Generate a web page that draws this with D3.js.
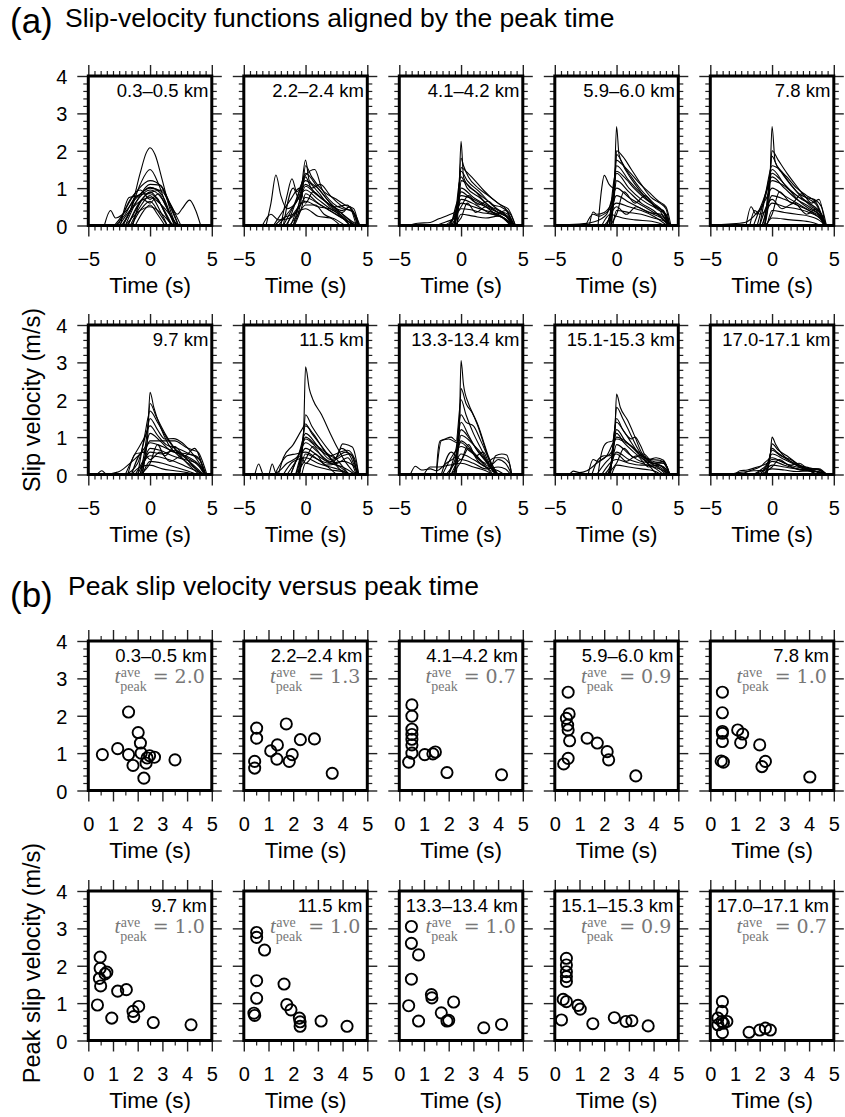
<!DOCTYPE html>
<html><head><meta charset="utf-8">
<script src="https://cdn.jsdelivr.net/npm/d3@7"></script>
<style>
body{margin:0;background:#fff;}
svg{display:block;}
</style></head><body>
<svg id="chart" width="845" height="1117" font-family="Liberation Sans, Arial, Helvetica, sans-serif" fill="#000"></svg>
<script>
// ---------- DATA ----------
const labelsA = ["0.3–0.5 km","2.2–2.4 km","4.1–4.2 km","5.9–6.0 km","7.8 km","9.7 km","11.5 km","13.3-13.4 km","15.1-15.3 km","17.0-17.1 km"];
const labelsB = ["0.3–0.5 km","2.2–2.4 km","4.1–4.2 km","5.9–6.0 km","7.8 km","9.7 km","11.5 km","13.3–13.4 km","15.1–15.3 km","17.0–17.1 km"];
const tPeakAve = ["2.0","1.3","0.7","0.9","1.0","1.0","1.0","1.0","0.9","0.7"];
const xTicksA = [-5,0,5];
const xTicksB = [0,1,2,3,4,5];
const yTicks = [0,1,2,3,4];

// slip-velocity functions: each curve is a flat list t0,v0,t1,v1,...
const curvesA1 = [
 [-2.2,0,-1.5,0.5,-0.8,1.4,-0.3,1.95,0,2.08,0.4,1.9,1.0,1.2,1.6,0.45,2.1,0],
 [-2.3,0,-1.6,0.4,-0.8,1.1,0,1.5,0.7,1.1,1.4,0.45,2.0,0],
 [-2.6,0,-1.8,0.55,-1.0,0.95,0,1.2,0.9,1.05,1.5,0.6,2.3,0],
 [-2.0,0,-1,0.7,0,1.1,0.8,1.08,1.6,0.6,2.5,0],
 [-2.4,0,-1.7,0.75,-1.0,0.8,0,1.02,1.0,0.8,1.8,0.2,2.2,0],
 [-2.2,0,-1.2,0.6,0,0.95,1,0.7,2.0,0],
 [-1.8,0,-1,0.5,0,0.9,0.9,0.55,1.8,0],
 [-2.8,0,-2,0.3,-1.2,0.75,-0.4,0.85,0,0.85,0.8,0.6,1.6,0.1,2,0],
 [-1.6,0,-0.8,0.5,0,0.8,0.8,0.4,1.4,0],
 [-2.5,0,-1.5,0.45,0,0.75,1.2,0.45,2.2,0],
 [-1.5,0,-0.7,0.45,0,0.65,0.7,0.35,1.4,0],
 [-3.7,0,-3.2,0.4,-2.8,0.2,-2.2,0.3,-1.2,0.7,0,1.0,1.0,0.9,1.7,0.5,2.3,0],
 [-1.8,0,-0.9,0.6,0,0.88,1.0,0.95,1.6,0.6,2.2,0.3,2.6,0.45,3.2,0.68,3.7,0.4,4.1,0],
 [-1.2,0,-0.5,0.4,0,0.55,0.6,0.3,1.2,0],
 [-2,0,-1,0.35,0,0.5,1,0.3,1.8,0],
 [-2.9,0,-2.3,0.25,-1.6,0.7,-0.8,0.95,0,0.7,0.7,0.85,1.3,0.5,2.0,0.1,2.4,0],
 [-1.4,0,-0.6,0.7,0,0.6,0.5,0.75,1.1,0.4,1.7,0]
];
const curvesA2 = [
 [-1.0,0,-0.4,0.8,0,1.75,0.3,1.2,1.0,1.0,2.0,0.6,3.0,0.3,3.8,0.1,4.3,0],
 [-3.2,0,-2.8,0.6,-2.4,1.35,-2.0,0.8,-1.5,0.45,-0.8,0.6,0,1.1,1,0.8,2,0.55,3,0.4,3.6,0.5,4.2,0],
 [-2.0,0,-1.5,0.8,-1.1,1.25,-0.7,0.9,0,1.35,0.75,1.5,1.3,1.0,2.2,0.6,3,0.45,3.8,0.4,4.3,0],
 [-1.5,0,-0.5,0.9,0,1.4,1,1.0,2,0.6,3,0.3,4,0],
 [-1.8,0,-1,0.5,0,1.2,1,0.9,2,0.5,3,0.35,3.5,0.5,4.1,0],
 [-1.2,0,-0.5,0.6,0,1.05,0.8,0.85,1.8,0.6,2.8,0.3,3.6,0],
 [-2.2,0,-1.5,0.3,-0.8,0.6,0,0.95,1,0.7,2,0.45,3,0.25,3.8,0],
 [-0.9,0,-0.3,0.5,0,0.85,1,0.6,2.2,0.35,3.2,0.15,4,0],
 [-3.5,0,-2.8,0.3,-2.2,0.15,-1.2,0.2,-0.5,0.5,0,0.75,1.2,0.55,2.5,0.3,3.5,0.1,4.2,0],
 [-1.6,0,-0.8,0.4,0,0.65,1,0.5,2,0.45,3,0.2,3.6,0],
 [-1.3,0,-0.6,0.3,0,0.55,0.8,0.55,1.5,0.3,2.5,0.15,3.2,0],
 [-2.5,0,-1.8,0.2,-1.0,0.3,0,0.45,1,0.25,2,0.2,2.8,0],
 [-1.0,0,-0.3,0.8,0,1.6,0.5,1.3,1.5,0.9,2.5,0.7,3.2,0.55,3.9,0.45,4.3,0],
 [-2.6,0,-2.0,0.3,-1.2,0.7,-0.5,1.0,0,0.6,0.6,0.9,1.4,0.7,2.4,0.5,3.4,0.55,3.9,0.3,4.3,0],
 [-1.8,0,-1.0,1.0,-0.5,0.7,0,1.3,0.5,1.0,1.2,1.1,2.0,0.8,3.0,0.5,4.0,0.3,4.4,0]
];
const curvesA3 = [
 [-0.5,0,-0.2,0.6,0,2.25,0.2,1.3,0.5,1.1,1.2,0.9,2.0,0.6,3.0,0.35,3.8,0.2,4.2,0],
 [-0.6,0,-0.2,0.8,0,1.55,0.4,1.45,1.0,1.25,1.8,0.95,2.6,0.7,3.2,0.55,3.8,0.45,4.4,0],
 [-1.0,0,-0.3,0.6,0,1.45,0.5,1.2,1.5,0.9,2.5,0.55,3.5,0.3,4.2,0],
 [-0.8,0,-0.2,0.5,0,1.2,1,0.95,2,0.7,2.6,0.55,3.2,0.5,4.0,0.3,4.4,0],
 [-4.3,0,-3.5,0.06,-2.5,0.08,-1.8,0.18,-1.0,0.28,-0.3,0.4,0,1.0,1,0.75,2,0.55,3,0.35,4,0.15,4.3,0],
 [-0.5,0,0,0.9,1,0.65,2,0.5,3,0.35,3.8,0.25,4.3,0],
 [-0.8,0,0,0.8,1,0.7,1.8,0.55,2.6,0.35,3.4,0.2,4.0,0],
 [-1.3,0,-0.6,0.2,0,0.6,1,0.5,2,0.4,3,0.3,4.2,0],
 [-0.6,0,0,0.45,0.8,0.42,1.6,0.35,2.5,0.3,3.5,0.2,4.2,0],
 [-0.4,0,0,0.3,1,0.25,2,0.2,3,0.25,3.7,0.15,4.3,0],
 [-0.3,0,0,1.8,0.2,1.6,0.6,1.3,1.4,1.0,2.2,0.8,3.0,0.6,3.6,0.45,4.3,0],
 [-2.0,0,-1.2,0.1,-0.5,0.2,0,0.7,1.2,0.55,2.2,0.35,3.4,0.2,4.1,0],
 [-1.0,0,-0.4,0.3,0,0.5,0.6,0.8,1.4,0.55,2.2,0.65,3.0,0.4,3.8,0.3,4.3,0],
 [-0.6,0,0,0.2,0.5,0.6,1.2,0.35,2.0,0.5,2.8,0.3,3.6,0.4,4.2,0],
 [-0.5,0,0,1.3,0.5,1.0,1.5,0.75,2.4,0.5,3.4,0.35,4.3,0]
];
const curvesA4 = [
 [-0.5,0,-0.2,0.8,0,2.65,0.2,1.9,0.6,1.6,1.2,1.3,2,0.95,3,0.6,3.8,0.35,4.2,0],
 [-0.6,0,-0.15,1.0,0,2.0,0.5,1.85,1.2,1.5,2,1.1,2.8,0.75,3.5,0.6,4.0,0.45,4.3,0],
 [-1.5,0,-1.2,1.0,-1.0,1.34,-0.6,1.1,-0.2,1.0,0,1.9,0.7,1.5,1.5,1.1,2.5,0.7,3.5,0.4,4.2,0],
 [-0.8,0,-0.3,0.7,0,1.6,1,1.2,2,0.85,3,0.55,4,0.3,4.3,0],
 [-2.2,0,-1.9,0.36,-1.6,0.3,-1.0,0.35,-0.4,0.6,0,1.4,1,1.0,2,0.7,3,0.5,3.8,0.4,4.2,0],
 [-1.0,0,-0.3,0.5,0,1.2,1,0.9,2,0.6,3,0.4,4.2,0],
 [-5,0.02,-3,0.04,-1.8,0.1,-0.8,0.3,0,1.0,1,0.75,2,0.55,3,0.35,4,0.15,4.3,0],
 [-0.6,0,0,0.8,1,0.62,2,0.45,3,0.3,4,0.1,4.2,0],
 [-2.5,0,-1.9,0.3,-1.4,0.25,-0.8,0.35,0,0.6,1,0.5,2,0.4,3,0.25,4.1,0],
 [-0.3,0,0,0.4,1,0.35,2,0.3,3,0.2,4,0.1,4.3,0],
 [-0.4,0,0,1.75,0.4,1.65,1.0,1.45,1.8,1.15,2.6,0.9,3.4,0.65,4.0,0.5,4.4,0],
 [-1.2,0,-0.5,0.3,0,0.25,0.5,0.2,1.5,0.15,3,0.1,4.0,0],
 [-0.5,0,0,0.3,0.6,0.9,1.5,0.6,2.3,0.8,3.2,0.45,4.0,0.3,4.3,0],
 [-0.8,0,0,0.5,0.8,0.3,1.6,0.5,2.6,0.35,3.6,0.3,4.3,0],
 [-0.6,0,0,1.45,0.6,1.3,1.4,1.0,2.2,0.75,3.0,0.55,3.8,0.35,4.3,0]
];
const curvesA5 = [
 [-0.6,0,-0.2,0.9,0,2.65,0.25,1.7,0.8,1.4,1.6,1.05,2.4,0.75,3.2,0.5,4,0.3,4.4,0],
 [-0.8,0,-0.2,1.1,0,2.0,0.5,1.75,1.2,1.4,2,1.05,2.8,0.75,3.4,0.7,4,0.5,4.4,0],
 [-1.2,0,-0.5,0.9,0,1.6,0.6,1.5,1.4,1.15,2.2,0.85,3.0,0.7,3.6,0.55,4.3,0],
 [-1.0,0,-0.4,1.0,0,1.5,1,1.1,2,0.8,3,0.6,4,0.3,4.3,0],
 [-2.1,0,-1.7,0.5,-1.3,0.3,-0.8,0.5,0,1.3,1,1.0,2,0.7,3,0.5,4,0.2,4.3,0],
 [-5,0.02,-3.5,0.04,-2.2,0.08,-1.2,0.35,-0.5,0.7,0,1.0,1,0.8,2,0.6,3,0.4,4,0.15,4.3,0],
 [-0.6,0,0,0.8,1,0.7,2,0.55,3,0.4,4,0.2,4.3,0],
 [-1.8,0,-1.4,0.4,-1.0,0.3,-0.5,0.4,0,0.6,1,0.5,2,0.45,3,0.35,4,0.15,4.2,0],
 [-0.4,0,0,0.4,1,0.35,2,0.3,3,0.25,4,0.1,4.3,0],
 [-0.8,0,-0.3,0.8,0,1.85,0.4,1.6,1.2,1.3,2.0,1.0,2.8,0.8,3.6,0.6,4.3,0],
 [-1.5,0,-0.8,0.6,0,1.2,0.8,1.1,1.6,0.9,2.4,0.7,3.2,0.55,4.4,0],
 [-0.5,0,0,0.2,1.5,0.15,3,0.1,4,0],
 [-0.5,0,0,0.3,0.6,0.9,1.6,0.6,2.4,0.85,3.2,0.6,3.8,0.7,4.3,0],
 [-1.0,0,0,0.7,0.8,0.45,1.8,0.6,2.8,0.3,3.6,0.45,4.2,0],
 [-0.6,0,0,1.4,0.6,1.25,1.4,0.95,2.2,0.65,3.0,0.45,3.8,0.3,4.3,0]
];
const curvesA6 = [
 [-0.7,0,-0.2,1.0,0,2.2,0.3,1.8,0.8,1.3,1.5,0.8,2.5,0.45,3.5,0.2,4.2,0],
 [-0.8,0,-0.2,1.2,0,1.9,0.5,1.55,1.2,1.1,2,0.7,3,0.4,4,0.1,4.3,0],
 [-1.0,0,-0.4,1.1,0,1.7,0.6,1.4,1.4,0.95,2.2,0.6,3,0.3,4,0],
 [-2.0,0,-1.3,0.5,-0.6,0.9,-0.3,1.1,0,1.5,0.6,1.2,1.2,0.95,1.9,0.96,2.6,0.85,3.2,0.65,4,0.3,4.5,0],
 [-1.8,0,-1.2,0.55,-0.5,0.6,0,0.9,1,0.9,2,0.9,2.9,0.73,3.5,0.65,3.9,0.6,4.3,0.3,4.6,0],
 [-4.3,0,-3.9,0.1,-3.5,0,-2.8,0.05,-2.5,0.08,-1.8,0.25,-0.8,0.55,0,0.85,1,0.75,2,0.6,3,0.55,3.7,0.5,4.3,0.2,4.5,0],
 [-1.2,0,-0.5,0.4,0,0.7,0.8,0.65,1.8,0.5,2.8,0.4,3.8,0.3,4.4,0],
 [-1.0,0,0,0.5,1,0.45,2,0.35,3,0.2,4,0.05,4.2,0],
 [-0.6,0,0,0.35,1,0.3,2,0.2,3,0.1,3.8,0],
 [-2.0,0,-1,0.3,0,1.3,0.6,1.05,1.3,0.8,2.2,0.7,3.2,0.55,4,0.4,4.5,0],
 [-0.8,0,0,0.6,1,0.55,2,0.65,3,0.45,4,0.2,4.4,0],
 [-1.5,0,-0.8,0.2,0,0.25,1,0.15,2,0.1,3,0.05,3.5,0],
 [-0.8,0,0,0.3,0.6,0.8,1.2,0.5,2.0,0.75,2.8,0.5,3.6,0.7,4.4,0],
 [-1.5,0,-0.6,0.6,0,0.4,0.8,0.6,1.6,0.35,2.6,0.5,3.4,0.25,4.2,0],
 [-0.6,0,0,1.1,0.8,0.9,1.6,0.65,2.4,0.55,3.2,0.45,4.0,0.25,4.5,0]
];
const curvesA7 = [
 [-0.5,0,-0.15,1.2,0,2.88,0.3,2.3,0.6,2.0,1.3,1.6,2.0,1.1,2.6,0.7,3.2,0.35,3.8,0.1,4.1,0],
 [-0.8,0,-0.2,0.9,0,1.6,0.5,1.3,1.2,0.95,2,0.6,2.8,0.3,3.5,0],
 [-2.2,0,-1.8,0.45,-1.0,0.8,-0.3,1.2,0,1.35,0.5,1.1,1.2,0.8,2,0.45,2.6,0.2,3.2,0],
 [-1.2,0,-0.5,0.6,0,1.1,1,0.75,2,0.4,2.5,0.45,3.0,0.82,3.5,0.78,3.8,0.73,4.1,0.4,4.3,0],
 [-4.1,0,-3.8,0.28,-3.4,0,-3.0,0,-2.7,0.28,-2.4,0.05,-1.5,0.3,-0.6,0.5,0,0.95,1,0.7,2,0.5,2.8,0.6,3.4,0.65,4,0.4,4.3,0],
 [-1.5,0,-0.7,0.4,0,0.85,1,0.6,2,0.35,3,0.5,3.6,0.55,4.2,0],
 [-0.8,0,0,0.7,1,0.5,2,0.3,3,0.2,4,0],
 [-0.5,0,0,0.55,1,0.4,2,0.3,3,0.35,4,0.2,4.3,0],
 [-1.8,0,-1,0.35,0,0.45,1,0.3,2,0.2,3,0.1,3.6,0],
 [-0.6,0,0,1.0,0.8,0.8,1.6,0.6,2.4,0.45,3.2,0.6,3.8,0.5,4.2,0],
 [-2.5,0,-2,0.3,-1.5,0.5,-0.8,0.55,0,0.6,1,0.4,2,0.15,2.5,0],
 [-0.3,0,0,0.3,1,0.2,2,0.12,3,0.08,3.5,0],
 [-0.8,0,0,0.4,0.6,0.75,1.4,0.45,2.2,0.3,2.9,0.7,3.6,0.5,4.2,0],
 [-1.2,0,-0.4,0.5,0,0.3,0.8,0.55,1.6,0.25,2.6,0.3,3.4,0.45,4.1,0],
 [-0.5,0,0,1.3,0.6,1.1,1.4,0.7,2.2,0.35,3.0,0.15,3.6,0]
];
const curvesA8 = [
 [-0.4,0,-0.12,1.5,0,3.05,0.2,2.4,0.6,1.9,1.0,1.6,1.4,1.3,1.8,0.9,2.2,0.5,2.7,0.15,3.0,0],
 [-0.6,0,-0.15,1.2,0,2.3,0.4,1.9,0.9,1.65,1.3,1.35,2.0,0.65,2.5,0.2,2.9,0],
 [-2.0,0,-1.9,0.5,-1.7,0.9,-1.3,0.95,-0.8,1.0,-0.4,0.9,0,2.0,0.4,1.6,1,1.1,1.6,0.7,2.2,0.3,2.8,0],
 [-1.0,0,-0.3,0.6,0,1.05,1,0.8,1.8,0.5,2.4,0.2,2.8,0.5,3.3,0.55,3.7,0.52,4.1,0],
 [-4.1,0,-3.7,0.22,-3.2,0.12,-2.5,0.15,-2.0,0.1,-1.2,0.3,-0.4,0.5,0,0.9,1,0.6,2,0.3,2.7,0.45,3.3,0.45,3.9,0.3,4.1,0],
 [-1.5,0,-0.8,0.45,0,0.75,0.8,0.6,1.6,0.35,2.5,0.15,3,0],
 [-1.2,0,-0.5,0.3,0,0.55,1,0.4,2,0.2,3,0.1,3.5,0],
 [-2.0,0,-1.6,0.9,-1.0,0.95,-0.3,0.85,0,0.85,0.7,0.65,1.5,0.4,2.3,0.1,2.6,0],
 [-0.8,0,0,0.4,1,0.3,2,0.15,3,0.2,3.6,0.15,4,0],
 [-3.0,0,-2.5,0.2,-1.8,0.2,-1,0.25,0,0.3,1,0.2,2,0.1,2.6,0],
 [-0.5,0,0,1.6,0.4,1.4,1.0,1.3,1.6,0.9,2.2,0.45,2.8,0],
 [-1.0,0,-0.4,0.7,0,1.4,0.6,1.05,1.2,0.7,1.8,0.45,2.5,0.2,3.0,0],
 [-0.8,0,0,0.35,0.6,0.8,1.2,0.5,1.8,0.6,2.4,0.25,3.0,0.4,3.6,0.3,4.1,0],
 [-1.6,0,-0.8,0.6,0,0.4,0.6,0.7,1.4,0.35,2.2,0.15,3.0,0],
 [-0.5,0,0,1.2,0.7,0.95,1.4,0.6,2.0,0.35,2.6,0.1,3.0,0]
];
const curvesA9 = [
 [-0.6,0,-0.15,1.0,0,2.15,0.3,1.8,0.9,1.45,1.5,1.0,2.0,0.6,2.6,0.35,3.5,0.15,4.0,0],
 [-0.7,0,-0.2,0.9,0,1.8,0.5,1.5,1.1,1.1,1.7,0.7,2.4,0.35,3,0.1,3.3,0],
 [-1.5,0,-1.2,0.6,-0.8,0.85,-0.3,0.9,0,1.5,0.5,1.2,1.2,0.95,1.5,1.0,1.9,0.8,2.4,0.45,3.0,0.3,3.8,0.3,4.3,0],
 [-2.3,0,-1.9,0.4,-1.5,0.35,-1.0,0.45,-0.4,0.6,0,1.2,0.7,0.9,1.4,0.7,2.2,0.45,3,0.35,3.8,0.3,4.3,0],
 [-3.8,0,-3.5,0.09,-3.0,0.05,-2.4,0.1,-1.6,0.3,-0.8,0.5,0,0.95,1,0.8,2,0.5,2.8,0.4,3.5,0.38,4.1,0.2,4.3,0],
 [-1.0,0,-0.4,0.3,0,0.8,1,0.55,2,0.35,3,0.3,4,0.15,4.2,0],
 [-0.6,0,0,0.6,1,0.4,2,0.3,3,0.2,4,0.05,4.1,0],
 [-1.2,0,0,0.4,1,0.3,2,0.25,3,0.25,3.7,0.15,4.2,0],
 [-0.4,0,0,0.25,1,0.2,2,0.15,3,0.1,3.6,0],
 [-2.0,0,-1.5,0.4,-1,0.5,-0.5,0.5,0,1.0,0.7,0.9,1.4,0.7,2,0.55,2.6,0.4,3.2,0.45,3.8,0.38,4.3,0],
 [-0.5,0,0,1.4,0.6,1.15,1.2,0.85,1.8,0.55,2.5,0.3,3.2,0.15,3.8,0],
 [-0.8,0,0,0.3,0.6,0.7,1.4,0.45,2.2,0.55,3.0,0.3,3.8,0.35,4.3,0],
 [-1.6,0,-0.8,0.35,0,0.55,0.8,0.35,1.6,0.5,2.6,0.2,3.4,0.25,4.2,0],
 [-0.5,0,0,1.1,0.6,0.85,1.4,0.6,2.2,0.4,3.0,0.3,3.8,0.2,4.3,0]
];
const curvesA10 = [
 [-0.5,0,-0.15,0.5,0,1.0,0.3,0.8,0.8,0.55,1.5,0.35,2.2,0.2,3,0.1,3.8,0],
 [-0.6,0,-0.2,0.4,0,0.82,0.5,0.65,1.2,0.5,2,0.3,2.8,0.15,3.5,0],
 [-1.0,0,-0.3,0.35,0,0.65,0.7,0.5,1.5,0.4,2.2,0.25,3,0.18,3.8,0.12,4.3,0],
 [-3.0,0,-2.6,0.1,-2,0.12,-1.2,0.2,-0.4,0.3,0,0.55,1,0.4,2,0.25,3,0.15,3.6,0.15,4.4,0],
 [-2.5,0,-1.8,0.1,-1,0.2,0,0.45,1,0.3,2,0.2,3,0.15,3.8,0.12,4.5,0],
 [-0.8,0,0,0.35,1,0.25,2,0.15,3,0.1,4,0.05,4.3,0],
 [-1.5,0,-0.5,0.15,0,0.25,1,0.2,2,0.15,3,0.12,4,0.06,4.5,0],
 [-3.5,0,-2.5,0.06,-1.5,0.1,-0.5,0.12,0,0.15,1,0.12,2,0.08,3,0.1,4,0.05,4.4,0],
 [-0.4,0,0,0.7,0.4,0.6,1,0.45,1.8,0.3,2.6,0.18,3.4,0.1,4.0,0],
 [-0.8,0,0,0.2,0.6,0.4,1.4,0.25,2.2,0.3,3.0,0.15,3.8,0.15,4.4,0],
 [-1.5,0,-0.6,0.2,0,0.4,0.8,0.35,1.6,0.2,2.6,0.1,3.6,0.08,4.2,0]
];

// peak time (s), peak slip velocity (m/s)
const peaksB1 = [[0.57,0.96],[1.19,1.12],[1.63,2.10],[1.63,0.96],[1.81,0.67],[2.02,1.55],[2.11,1.27],[2.14,1.00],[2.25,0.33],[2.34,0.73],[2.38,0.87],[2.48,0.93],[2.68,0.89],[3.51,0.82]];
const peaksB2 = [[0.52,1.67],[0.52,1.40],[0.44,0.78],[0.44,0.60],[1.09,1.06],[1.36,1.22],[1.34,0.84],[1.72,1.78],[1.84,0.78],[1.96,0.96],[2.29,1.36],[2.86,1.38],[3.58,0.46]];
const peaksB3 = [[0.51,2.29],[0.51,1.99],[0.51,1.64],[0.51,1.50],[0.51,1.37],[0.51,1.22],[0.51,1.00],[0.38,0.76],[1.03,0.96],[1.36,0.98],[1.46,1.03],[1.93,0.48],[4.14,0.42]];
const peaksB4 = [[0.54,2.63],[0.58,2.05],[0.47,1.93],[0.54,1.62],[0.60,1.33],[0.54,0.86],[0.36,0.71],[1.31,1.40],[1.72,1.27],[2.12,1.04],[2.18,0.82],[3.28,0.39],[0.52,1.75]];
const peaksB5 = [[0.49,2.63],[0.49,2.08],[0.49,1.58],[0.49,1.53],[0.49,1.31],[0.44,0.79],[0.53,0.76],[1.11,1.62],[1.31,1.51],[1.23,1.28],[2.00,1.22],[2.23,0.78],[2.09,0.64],[4.03,0.36]];
const peaksB6 = [[0.48,2.23],[0.48,1.93],[0.45,1.66],[0.50,1.46],[0.68,1.78],[0.75,1.83],[0.37,0.95],[0.95,0.60],[1.19,1.32],[1.54,1.36],[1.81,0.78],[1.84,0.64],[2.04,0.91],[2.63,0.48],[4.16,0.42]];
const peaksB7 = [[0.52,2.89],[0.52,2.76],[0.84,2.42],[0.52,1.60],[0.52,1.13],[0.41,0.73],[0.44,0.67],[1.63,1.51],[1.74,0.96],[1.91,0.82],[2.25,0.60],[2.28,0.38],[2.28,0.50],[3.13,0.52],[4.18,0.38]];
const peaksB8 = [[0.49,3.05],[0.49,2.60],[0.78,2.29],[0.49,1.64],[0.38,0.93],[0.78,0.52],[1.30,1.23],[1.32,1.14],[2.20,1.03],[1.70,0.74],[1.93,0.52],[2.00,0.54],[3.42,0.34],[4.14,0.43]];
const peaksB9 = [[0.47,2.20],[0.47,2.02],[0.47,1.84],[0.47,1.71],[0.47,1.58],[0.34,1.10],[0.47,1.04],[0.94,0.94],[1.03,0.84],[0.27,0.55],[1.54,0.45],[2.41,0.61],[2.88,0.51],[3.12,0.53],[3.78,0.39]];
const peaksB10 = [[0.49,1.04],[0.47,0.78],[0.31,0.60],[0.47,0.51],[0.67,0.51],[0.53,0.46],[0.31,0.42],[0.49,0.21],[1.57,0.22],[2.00,0.28],[2.23,0.33],[2.43,0.28]];

const curvesA = [curvesA1,curvesA2,curvesA3,curvesA4,curvesA5,curvesA6,curvesA7,curvesA8,curvesA9,curvesA10];
const peaksB = [peaksB1,peaksB2,peaksB3,peaksB4,peaksB5,peaksB6,peaksB7,peaksB8,peaksB9,peaksB10];

// ---------- LAYOUT ----------
const svg = d3.select("#chart");
const lefts = [88.3,243.8,399.3,554.8,710.3];
const W = 123.5, H = 149.5;
const tops = [76,325,641,891];
const SANS = "Liberation Sans, Arial, Helvetica, sans-serif";
const fmt = d => d < 0 ? "\u2212" + Math.abs(d) : String(d);

function stepVals(a,b,step){ const n=Math.round((b-a)/step); return d3.range(n+1).map(i=>+(a+i*step).toFixed(4)); }

function panel(x0,y0,xDomain,xMajor,xStep,showY){
  const g = svg.append("g").attr("transform",`translate(${x0},${y0})`);
  const x = d3.scaleLinear().domain(xDomain).range([0,W]);
  const y = d3.scaleLinear().domain([0,4]).range([H,0]);
  const minorX = stepVals(xDomain[0],xDomain[1],xStep).filter(v=>!xMajor.includes(v));
  const minorY = stepVals(0,4,0.2).filter(v=>!yTicks.includes(v));
  const axes = g.append("g").attr("class","axes");
  const style = (sel, sw) => { sel.select(".domain").remove(); sel.selectAll("line").attr("stroke","#222").attr("stroke-width",sw); };
  // bottom
  axes.append("g").attr("transform",`translate(0,${H})`).call(d3.axisBottom(x).tickValues(minorX).tickSize(5).tickFormat("")).call(s=>style(s,1.2));
  const bx = axes.append("g").attr("transform",`translate(0,${H})`).call(d3.axisBottom(x).tickValues(xMajor).tickSize(11).tickFormat(fmt)).call(s=>style(s,1.4));
  bx.selectAll("text").attr("y",40).attr("dy",0).attr("font-size",20).attr("font-family",SANS).attr("fill","#000");
  // top
  axes.append("g").call(d3.axisTop(x).tickValues(minorX).tickSize(5).tickFormat("")).call(s=>style(s,1.2));
  axes.append("g").call(d3.axisTop(x).tickValues(xMajor).tickSize(11).tickFormat("")).call(s=>style(s,1.4));
  // left
  axes.append("g").call(d3.axisLeft(y).tickValues(minorY).tickSize(5).tickFormat("")).call(s=>style(s,1.2));
  const ly = axes.append("g").call(d3.axisLeft(y).tickValues(yTicks).tickSize(11).tickFormat(d=>showY?d:"")).call(s=>style(s,1.4));
  ly.selectAll("text").attr("x",-21).attr("dy","0.38em").attr("font-size",20).attr("font-family",SANS).attr("fill","#000");
  // right
  axes.append("g").attr("transform",`translate(${W},0)`).call(d3.axisRight(y).tickValues(minorY).tickSize(5).tickFormat("")).call(s=>style(s,1.2));
  axes.append("g").attr("transform",`translate(${W},0)`).call(d3.axisRight(y).tickValues(yTicks).tickSize(10).tickFormat("")).call(s=>style(s,1.4));
  // x title
  g.append("text").attr("x",W/2).attr("y",H+67).attr("text-anchor","middle").attr("font-size",22.5).text("Time (s)");
  return {g,x,y};
}

function frame(g){
  g.append("rect").attr("x",0).attr("y",0).attr("width",W).attr("height",H)
   .attr("fill","none").attr("stroke","#000").attr("stroke-width",3);
}

const toPairs = arr => d3.range(0,arr.length,2).map(i=>[arr[i],arr[i+1]]);

// measure a string's width
function measure(str, family, size, style){
  const t = svg.append("text").attr("font-family",family).attr("font-size",size).attr("font-style",style||"normal").text(str);
  const w = t.node().getComputedTextLength(); t.remove(); return w;
}

// ---------- PART (a) ----------
curvesA.forEach((curves,i)=>{
  const row = Math.floor(i/5), col = i%5;
  const p = panel(lefts[col], tops[row], [-5,5], xTicksA, 0.5, col===0);
  const line = d3.line().x(d=>p.x(d[0])).y(d=>p.y(d[1])).curve(d3.curveMonotoneX);
  p.g.append("g").selectAll("path").data(curves).join("path")
    .attr("d",c=>line(toPairs(c))).attr("fill","none").attr("stroke","#000").attr("stroke-width",1.1);
  frame(p.g);
  p.g.append("text").attr("x",W-3.5).attr("y",21).attr("text-anchor","end").attr("font-size",18.5).text(labelsA[i]);
});

// ---------- PART (b) ----------
const SERIF = "Liberation Serif, serif", DSERIF = "DejaVu Serif, serif";
const gray = "#777";
peaksB.forEach((pts,i)=>{
  const row = Math.floor(i/5)+2, col = i%5;
  const p = panel(lefts[col], tops[row], [0,5], xTicksB, 0.5, col===0);
  p.g.append("g").selectAll("circle").data(pts).join("circle")
    .attr("cx",d=>p.x(d[0])).attr("cy",d=>p.y(d[1])).attr("r",5.6)
    .attr("fill","none").attr("stroke","#000").attr("stroke-width",1.9);
  frame(p.g);
  p.g.append("text").attr("x",W-5).attr("y",21).attr("text-anchor","end").attr("font-size",18.5).text(labelsB[i]);
  // t_peak^ave = value  (one text element with tspans)
  const wVal = measure(tPeakAve[i], DSERIF, 19);
  const wEq = measure("=", DSERIF, 19);
  const wSub = measure("peak", SERIF, 14);
  const wT = measure("t", SERIF, 21, "italic");
  const xVal = W-7-wVal, xEq = xVal-6-wEq, xSub = xEq-6-wSub, xT = xSub-wT;
  const tx = p.g.append("text").attr("fill",gray).attr("font-family",SERIF);
  tx.append("tspan").attr("x",xT).attr("y",42).attr("font-style","italic").attr("font-size",21).text("t");
  tx.append("tspan").attr("x",xSub+0.5).attr("y",36).attr("font-size",14).text("ave");
  tx.append("tspan").attr("x",xSub).attr("y",50).attr("font-size",14).text("peak");
  tx.append("tspan").attr("x",xEq).attr("y",42).attr("font-family",DSERIF).attr("font-size",19).text("=");
  tx.append("tspan").attr("x",xVal).attr("y",42).attr("font-family",DSERIF).attr("font-size",19).text(tPeakAve[i]);
});

// ---------- TITLES ----------
svg.append("text").attr("x",10).attr("y",33).attr("font-size",35).text("(a)");
svg.append("text").attr("x",65).attr("y",27).attr("font-size",26.5).text("Slip-velocity functions aligned by the peak time");
svg.append("text").attr("x",10).attr("y",607).attr("font-size",35).text("(b)");
svg.append("text").attr("x",68).attr("y",595).attr("font-size",26.5).text("Peak slip velocity versus peak time");
svg.append("text").attr("transform","translate(40,400) rotate(-90)").attr("text-anchor","middle").attr("font-size",23.5).text("Slip velocity (m/s)");
svg.append("text").attr("transform","translate(40,963) rotate(-90)").attr("text-anchor","middle").attr("font-size",23.5).text("Peak slip velocity (m/s)");
</script>
</body></html>
